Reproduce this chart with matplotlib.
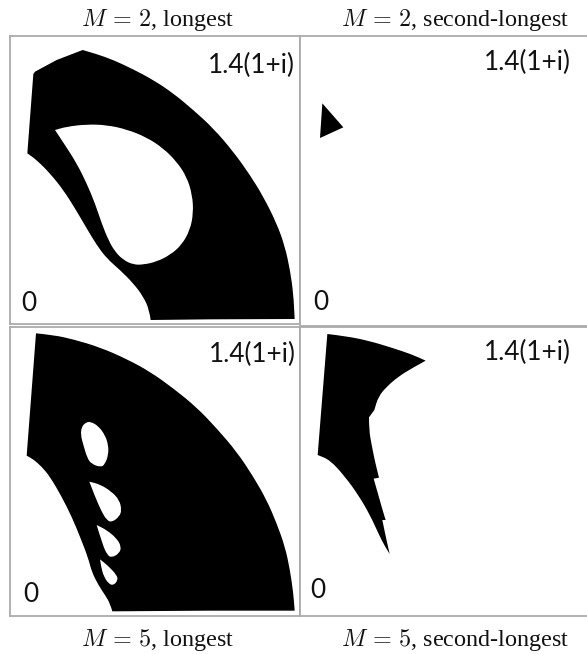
import numpy as np
import matplotlib
matplotlib.use("Agg")
import matplotlib.pyplot as plt
from matplotlib.path import Path
from matplotlib.patches import PathPatch

plt.rcParams['mathtext.fontset'] = 'cm'

W = 587
H = 654

# outlines, x and y lists per region
m2_long_x = [248,290,340,400,460,520,580,640,700,750,790,830,855,870,880,884,630,452,448,430,400,360,320,290,260,225,190,150,110,82,100,105,170]
m2_long_y = [150,162,180,208,240,280,330,385,455,525,590,670,740,810,880,957,958,960,930,890,850,810,775,735,685,625,570,520,480,460,222,215,180]
m2_long_corners = [0,15,16,17,29,30,31,32]
m2_long_hole_x = [165,200,260,320,380,440,490,530,560,577,580,570,545,510,470,430,400,370,345,325,305,285,260,230,195]
m2_long_hole_y = [390,380,373,375,388,412,445,485,530,585,640,690,735,765,785,794,794,780,755,720,670,610,550,490,435]
m2_long_hole_corners = [0]

m2_second_x = [82,145,75]
m2_second_y = [310,382,414]
m2_second_corners = [0,1,2]

m5_long_x = [108,160,220,300,380,450,520,590,650,710,760,800,830,855,870,880,884,630,337,330,315,295,275,265,240,215,185,150,125,100,80]
m5_long_y = [40,45,58,82,117,155,205,262,325,395,470,540,610,680,750,820,872,872,874,850,825,795,755,715,650,590,530,470,440,418,407]
m5_long_corners = [0,16,17,18,30]
m5_hole1_x = [245,258,272,295,315,325,325,315,303,275,262,250,242]
m5_hole1_y = [320,307,305,318,345,375,405,432,442,432,415,375,345]
m5_hole2_x = [268,300,335,358,365,358,335,320,305,285]
m5_hole2_y = [485,493,515,540,570,590,607,600,575,530]
m5_hole3_x = [290,320,350,364,358,335,322,308]
m5_hole3_y = [615,630,655,680,700,713,705,675]
m5_hole4_x = [300,325,350,354,340,325,312,304]
m5_hole4_y = [718,738,765,780,797,790,770,745]

m5_second_x = [97,150,220,290,350,392,350,310,275,250,238,222,222,230,240,252,236,250,265,272,262,270,284,270,250,225,190,150,105,68]
m5_second_y = [42,48,62,83,103,122,145,170,200,230,270,292,330,375,425,473,476,525,578,600,600,640,702,680,640,585,525,470,420,405]
m5_second_corners = [0,5,10,11,15,16,19,20,22,29]

titles = [r"$M\,=\,2$, longest", r"$M\,=\,2$, second-longest",
          r"$M\,=\,5$, longest", r"$M\,=\,5$, second-longest"]


def make_axes(fig, x0, y0, xlim, ylim):
    # limits are in 3x crop pixels, x0/y0 is the crop corner in the image
    left = x0 + xlim[0] / 3
    right = x0 + xlim[1] / 3
    top = y0 + ylim[1] / 3
    bottom = y0 + ylim[0] / 3
    ax = fig.add_axes([left / W, 1 - bottom / H, (right - left) / W, (bottom - top) / H])
    ax.set_xlim(xlim)
    ax.set_ylim(ylim)
    ax.set_xticks([])
    ax.set_yticks([])
    for s in ax.spines.values():
        s.set_color('#ababab')
        s.set_linewidth(1.3)
    return ax


def smooth_loop(xs, ys, corners, reverse=False):
    # quadratic curves through the midpoints, corner points stay sharp
    pts = list(zip(xs, ys))
    n = len(pts)
    order = list(range(n))
    if reverse:
        order = order[::-1]
    start = next(i for i in order if i in corners) if corners else order[0]
    k = order.index(start)
    order = order[k:] + order[:k]
    verts = [pts[order[0]]]
    codes = [Path.MOVETO]
    for j in range(1, n + 1):
        i = order[j % n]
        p = pts[i]
        if i in corners:
            verts.append(p)
            codes.append(Path.LINETO)
        else:
            nxt = pts[order[(j + 1) % n]]
            mid = ((p[0] + nxt[0]) / 2, (p[1] + nxt[1]) / 2)
            verts += [p, mid]
            codes += [Path.CURVE3, Path.CURVE3]
    verts.append(verts[0])
    codes.append(Path.CLOSEPOLY)
    return verts, codes


def fill_region(ax, outer, holes=()):
    verts, codes = smooth_loop(*outer)
    for xs, ys, corners in holes:
        v, c = smooth_loop(xs, ys, corners, reverse=True)
        verts += v
        codes += c
    ax.add_patch(PathPatch(Path(verts, codes), facecolor='black', edgecolor='none'))


def labels(ax, top_xy, zero_xy):
    ax.text(top_xy[0], top_xy[1], "1.4(1+i)", fontsize=18.8, family='Lato',
            color='#111111', ha='center', va='center')
    ax.text(zero_xy[0], zero_xy[1], "0", fontsize=18.8, family='Lato',
            color='#111111', ha='center', va='center')


fig = plt.figure(figsize=(W / 100, H / 100), dpi=100, facecolor='white')

ax1 = make_axes(fig, 0, 0, (29, 900), (972, 107))
fill_region(ax1, (m2_long_x, m2_long_y, m2_long_corners),
            [(m2_long_hole_x, m2_long_hole_y, m2_long_hole_corners)])
labels(ax1, (753, 195), (85, 910))

ax2 = make_axes(fig, 295, 0, (15, 891), (978, 107))
fill_region(ax2, (m2_second_x, m2_second_y, m2_second_corners))
labels(ax2, (698, 188), (77, 908))

ax3 = make_axes(fig, 0, 320, (29, 900), (888, 20))
fill_region(ax3, (m5_long_x, m5_long_y, m5_long_corners),
            [(m5_hole1_x, m5_hole1_y, []), (m5_hole2_x, m5_hole2_y, [0]),
             (m5_hole3_x, m5_hole3_y, [0]), (m5_hole4_x, m5_hole4_y, [0])])
labels(ax3, (757, 103), (92, 822))

ax4 = make_axes(fig, 295, 320, (15, 891), (888, 20))
fill_region(ax4, (m5_second_x, m5_second_y, m5_second_corners))
labels(ax4, (698, 98), (67, 812))

title_x = [158, 455, 158, 455]
title_y = [20, 20, 640, 640]
for t, x, y in zip(titles, title_x, title_y):
    fig.text(x / W, 1 - y / H, t, fontsize=17.4, family='Liberation Serif',
             color='#111111', ha='center', va='center')

fig.savefig('out.png', dpi=100)
